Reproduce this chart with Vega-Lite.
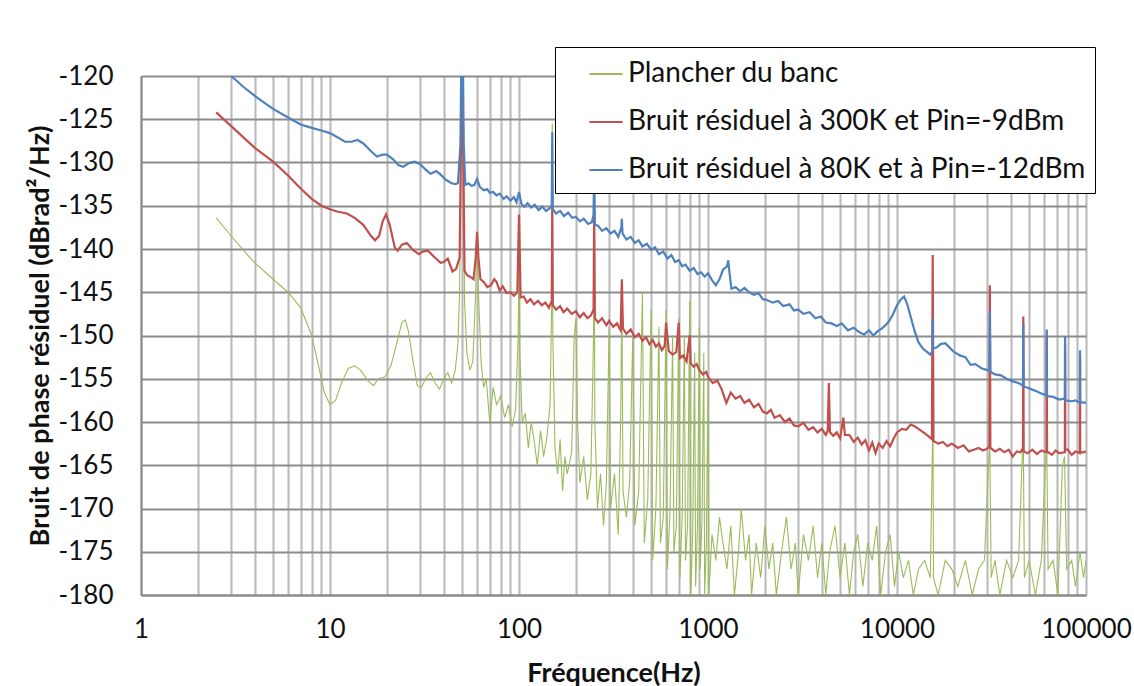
{
  "$schema": "https://vega.github.io/schema/vega-lite/v6.json",
  "width": 945,
  "height": 519,
  "autosize": {"type": "none"},
  "padding": {"left": 141, "top": 76, "right": 48, "bottom": 91},
  "background": "white",
  "config": {
    "font": "Lato",
    "view": {"stroke": "#9a9a9a"},
    "axis": {"labelFont": "Lato", "titleFont": "Lato", "labelColor": "#111", "titleColor": "#111", "ticks": false},
    "legend": {"labelFont": "Lato"}
  },
  "datasets": {
    "green": [
      {"f":2.5,"v":-136.4},{"f":3,"v":-138.5},{"f":3.5,"v":-140.2},{"f":4,"v":-141.6},{"f":5,"v":-143.5},{"f":6,"v":-145},{"f":7,"v":-146.8},{"f":8,"v":-150},{"f":8.7,"v":-153.5},{"f":9.3,"v":-156.5},{"f":10,"v":-158},{"f":10.7,"v":-157.5},{"f":11.5,"v":-155.5},{"f":12.5,"v":-153.8},{"f":13.5,"v":-153.5},{"f":14.5,"v":-154},{"f":16,"v":-155.3},{"f":17,"v":-155.8},{"f":18,"v":-155},{"f":19.5,"v":-154.8},{"f":21,"v":-153.5},{"f":22.5,"v":-151},{"f":24,"v":-148.5},{"f":25,"v":-148.2},{"f":26,"v":-149.5},{"f":27.5,"v":-153},{"f":29,"v":-155.8},{"f":30.5,"v":-156},{"f":32,"v":-155},{"f":34,"v":-154.3},{"f":36,"v":-155.5},{"f":38,"v":-156.2},{"f":40,"v":-155},{"f":42,"v":-154.3},{"f":44,"v":-155.5},{"f":46,"v":-154},{"f":47.5,"v":-151},{"f":48.5,"v":-145},{"f":49.5,"v":-125},{"f":50,"v":-110},{"f":50.5,"v":-125},{"f":51.5,"v":-146},{"f":53,"v":-152},{"f":55,"v":-154},{"f":57,"v":-153},{"f":59,"v":-145},{"f":60,"v":-138.5},{"f":61,"v":-145},{"f":63,"v":-153},{"f":65,"v":-156},{"f":67,"v":-155},{"f":70,"v":-160},{"f":73,"v":-156},{"f":76,"v":-158},{"f":80,"v":-157},{"f":84,"v":-159.5},{"f":88,"v":-158},{"f":92,"v":-160.5},{"f":96,"v":-158.5},{"f":99,"v":-150},{"f":100,"v":-141},{"f":101,"v":-152},{"f":104,"v":-160},{"f":108,"v":-159},{"f":112,"v":-163},{"f":116,"v":-160},{"f":120,"v":-162},{"f":125,"v":-165},{"f":130,"v":-161},{"f":135,"v":-164},{"f":140,"v":-162},{"f":146,"v":-158},{"f":149,"v":-146},{"f":150,"v":-125.5},{"f":151,"v":-150},{"f":155,"v":-163},{"f":160,"v":-166},{"f":165,"v":-162},{"f":170,"v":-168},{"f":175,"v":-164},{"f":180,"v":-166},{"f":190,"v":-163.5},{"f":196,"v":-150},{"f":200,"v":-148},{"f":204,"v":-160},{"f":210,"v":-167},{"f":220,"v":-164},{"f":230,"v":-169},{"f":240,"v":-166},{"f":248,"v":-150},{"f":250,"v":-140},{"f":252,"v":-160},{"f":260,"v":-170},{"f":270,"v":-166},{"f":280,"v":-172},{"f":290,"v":-167},{"f":300,"v":-149},{"f":305,"v":-170},{"f":320,"v":-166},{"f":335,"v":-173},{"f":345,"v":-160},{"f":350,"v":-145},{"f":355,"v":-168},{"f":370,"v":-171},{"f":385,"v":-167},{"f":400,"v":-150},{"f":410,"v":-172},{"f":430,"v":-168},{"f":450,"v":-145},{"f":460,"v":-174},{"f":480,"v":-169},{"f":500,"v":-147},{"f":510,"v":-176},{"f":530,"v":-170},{"f":550,"v":-149},{"f":560,"v":-174},{"f":580,"v":-171},{"f":600,"v":-147},{"f":610,"v":-177},{"f":630,"v":-170},{"f":650,"v":-150},{"f":660,"v":-175},{"f":680,"v":-172},{"f":700,"v":-148},{"f":710,"v":-178},{"f":730,"v":-171},{"f":750,"v":-150},{"f":760,"v":-176},{"f":780,"v":-172},{"f":800,"v":-146},{"f":810,"v":-180},{"f":830,"v":-173},{"f":850,"v":-152},{"f":860,"v":-179},{"f":880,"v":-172},{"f":900,"v":-149},{"f":910,"v":-177},{"f":930,"v":-171},{"f":950,"v":-152},{"f":960,"v":-180},{"f":980,"v":-174},{"f":1000,"v":-155},{"f":1010,"v":-180},{"f":1050,"v":-173},{"f":1100,"v":-176},{"f":1150,"v":-171},{"f":1200,"v":-174},{"f":1260,"v":-177},{"f":1320,"v":-172},{"f":1380,"v":-180},{"f":1450,"v":-175},{"f":1500,"v":-170},{"f":1580,"v":-176},{"f":1650,"v":-173},{"f":1700,"v":-180},{"f":1800,"v":-174},{"f":1900,"v":-178},{"f":2000,"v":-172},{"f":2100,"v":-177},{"f":2200,"v":-174},{"f":2300,"v":-180},{"f":2450,"v":-175},{"f":2600,"v":-171},{"f":2750,"v":-177},{"f":2900,"v":-174},{"f":3000,"v":-180},{"f":3200,"v":-173},{"f":3400,"v":-176},{"f":3600,"v":-172},{"f":3800,"v":-178},{"f":4000,"v":-174},{"f":4200,"v":-180},{"f":4400,"v":-175},{"f":4700,"v":-172},{"f":5000,"v":-178},{"f":5300,"v":-174},{"f":5600,"v":-180},{"f":5900,"v":-175},{"f":6200,"v":-173},{"f":6600,"v":-179},{"f":7000,"v":-174},{"f":7400,"v":-176},{"f":7800,"v":-172},{"f":8200,"v":-180},{"f":8700,"v":-175},{"f":9200,"v":-173},{"f":9700,"v":-179},{"f":10200,"v":-175},{"f":10800,"v":-178},{"f":11500,"v":-176},{"f":12200,"v":-180},{"f":13000,"v":-177},{"f":14000,"v":-176},{"f":15000,"v":-178},{"f":15400,"v":-163},{"f":15500,"v":-160},{"f":15600,"v":-178},{"f":16500,"v":-180},{"f":18000,"v":-176},{"f":19500,"v":-177},{"f":21000,"v":-179},{"f":23000,"v":-176},{"f":25000,"v":-180},{"f":27000,"v":-177},{"f":29000,"v":-176},{"f":30500,"v":-165},{"f":31000,"v":-163},{"f":31500,"v":-178},{"f":33000,"v":-176},{"f":35000,"v":-180},{"f":38000,"v":-176},{"f":41000,"v":-178},{"f":44000,"v":-176},{"f":46000,"v":-164},{"f":46600,"v":-162},{"f":47200,"v":-178},{"f":50000,"v":-176},{"f":54000,"v":-180},{"f":58000,"v":-176},{"f":61000,"v":-165},{"f":62000,"v":-163},{"f":63000,"v":-177},{"f":67000,"v":-176},{"f":71000,"v":-180},{"f":75000,"v":-165},{"f":77000,"v":-164},{"f":79000,"v":-177},{"f":84000,"v":-176},{"f":88000,"v":-179},{"f":93000,"v":-175},{"f":97000,"v":-178},{"f":100000,"v":-176}
    ],
    "red": [
      {"f":2.5,"v":-124.2},{"f":3,"v":-125.8},{"f":4,"v":-128.3},{"f":5,"v":-129.9},{"f":6,"v":-131.5},{"f":7,"v":-133},{"f":8,"v":-134.2},{"f":9,"v":-135},{"f":10,"v":-135.4},{"f":11,"v":-135.7},{"f":12.3,"v":-135.9},{"f":13.5,"v":-136.4},{"f":15,"v":-137.2},{"f":16.5,"v":-138.5},{"f":17.3,"v":-139},{"f":18.2,"v":-138.5},{"f":19,"v":-136.8},{"f":19.8,"v":-136},{"f":20.7,"v":-137.2},{"f":22,"v":-139.8},{"f":22.8,"v":-140.2},{"f":24,"v":-139.5},{"f":25.5,"v":-139.3},{"f":27.5,"v":-140.1},{"f":29.5,"v":-140.6},{"f":31,"v":-140.3},{"f":33,"v":-140.2},{"f":35.5,"v":-140.9},{"f":38.5,"v":-141.6},{"f":40,"v":-141.5},{"f":42,"v":-141.1},{"f":44.5,"v":-142.6},{"f":46.5,"v":-142.3},{"f":48.5,"v":-141},{"f":49.5,"v":-125},{"f":50,"v":-110},{"f":50.5,"v":-125},{"f":51.5,"v":-142.5},{"f":53,"v":-143},{"f":55,"v":-143.2},{"f":57.5,"v":-143.5},{"f":59,"v":-141},{"f":60,"v":-138},{"f":61,"v":-141},{"f":62.5,"v":-143.5},{"f":65,"v":-143.8},{"f":68,"v":-144.4},{"f":71,"v":-144.2},{"f":74,"v":-143.5},{"f":76,"v":-143.8},{"f":79,"v":-144.8},{"f":82,"v":-144.3},{"f":86,"v":-145.1},{"f":90,"v":-145},{"f":94,"v":-145.4},{"f":98,"v":-145},{"f":100,"v":-136},{"f":102,"v":-145.6},{"f":106,"v":-145.5},{"f":110,"v":-146.2},{"f":115,"v":-145.8},{"f":120,"v":-146.4},{"f":126,"v":-146},{"f":132,"v":-146.5},{"f":138,"v":-146.2},{"f":144,"v":-146.8},{"f":149,"v":-146},{"f":150,"v":-135.2},{"f":151,"v":-146.5},{"f":157,"v":-147},{"f":165,"v":-146.6},{"f":172,"v":-147.3},{"f":180,"v":-146.9},{"f":190,"v":-147.5},{"f":200,"v":-147.2},{"f":210,"v":-147.9},{"f":220,"v":-147.4},{"f":230,"v":-148},{"f":240,"v":-147.7},{"f":248,"v":-147},{"f":250,"v":-135.5},{"f":252,"v":-148},{"f":262,"v":-148.5},{"f":275,"v":-148},{"f":290,"v":-148.8},{"f":300,"v":-148.3},{"f":315,"v":-149},{"f":330,"v":-148.6},{"f":345,"v":-149.4},{"f":350,"v":-143.5},{"f":355,"v":-149.2},{"f":370,"v":-149.8},{"f":390,"v":-149.3},{"f":410,"v":-150.2},{"f":430,"v":-149.8},{"f":450,"v":-150.6},{"f":470,"v":-150.2},{"f":490,"v":-151},{"f":510,"v":-150.5},{"f":530,"v":-151.3},{"f":550,"v":-150.9},{"f":570,"v":-151.7},{"f":590,"v":-151.2},{"f":600,"v":-148.5},{"f":620,"v":-151.8},{"f":650,"v":-152.2},{"f":680,"v":-151.9},{"f":700,"v":-148.5},{"f":710,"v":-152.6},{"f":740,"v":-152.3},{"f":770,"v":-153},{"f":800,"v":-150},{"f":810,"v":-153.2},{"f":840,"v":-153.6},{"f":870,"v":-153.3},{"f":900,"v":-154},{"f":940,"v":-154.5},{"f":980,"v":-154.2},{"f":1000,"v":-154.8},{"f":1060,"v":-155.5},{"f":1120,"v":-155.2},{"f":1180,"v":-156.2},{"f":1250,"v":-157.8},{"f":1320,"v":-156.6},{"f":1400,"v":-157.3},{"f":1480,"v":-157},{"f":1560,"v":-157.8},{"f":1650,"v":-157.4},{"f":1750,"v":-158.3},{"f":1850,"v":-157.9},{"f":1950,"v":-158.8},{"f":2050,"v":-159},{"f":2150,"v":-158.6},{"f":2250,"v":-159.5},{"f":2400,"v":-159.2},{"f":2550,"v":-160},{"f":2700,"v":-159.6},{"f":2850,"v":-160.4},{"f":3000,"v":-160.5},{"f":3200,"v":-160.1},{"f":3400,"v":-160.9},{"f":3600,"v":-160.6},{"f":3800,"v":-161.2},{"f":4000,"v":-160.8},{"f":4200,"v":-161.5},{"f":4300,"v":-161},{"f":4360,"v":-155.5},{"f":4420,"v":-161.2},{"f":4600,"v":-161.6},{"f":4800,"v":-161.2},{"f":5000,"v":-161.9},{"f":5200,"v":-159.5},{"f":5300,"v":-161.5},{"f":5600,"v":-161.5},{"f":5900,"v":-162.3},{"f":6200,"v":-161.8},{"f":6500,"v":-162.6},{"f":6800,"v":-162.1},{"f":7100,"v":-163.3},{"f":7400,"v":-162.4},{"f":7700,"v":-163.6},{"f":8000,"v":-162.5},{"f":8400,"v":-163},{"f":8800,"v":-162.2},{"f":9200,"v":-162.8},{"f":9600,"v":-161.9},{"f":10000,"v":-161.2},{"f":10600,"v":-160.8},{"f":11200,"v":-160.9},{"f":11800,"v":-160.3},{"f":12400,"v":-160.5},{"f":13000,"v":-160.8},{"f":13800,"v":-161.2},{"f":14600,"v":-161.6},{"f":15300,"v":-162},{"f":15450,"v":-140.7},{"f":15600,"v":-162.2},{"f":16500,"v":-162.5},{"f":17500,"v":-162.3},{"f":18500,"v":-162.8},{"f":19500,"v":-162.5},{"f":21000,"v":-163},{"f":22500,"v":-162.7},{"f":24000,"v":-163.4},{"f":25500,"v":-163.2},{"f":27000,"v":-163},{"f":28500,"v":-163.3},{"f":30000,"v":-163.1},{"f":30800,"v":-162.8},{"f":31000,"v":-144.2},{"f":31200,"v":-163},{"f":33000,"v":-163.4},{"f":35000,"v":-163.1},{"f":37000,"v":-163.5},{"f":39000,"v":-163.2},{"f":41000,"v":-164},{"f":43000,"v":-163.4},{"f":45000,"v":-163.5},{"f":46400,"v":-163},{"f":46600,"v":-147.8},{"f":46800,"v":-163.4},{"f":49000,"v":-163.6},{"f":52000,"v":-163.2},{"f":55000,"v":-163.7},{"f":58000,"v":-163.3},{"f":61800,"v":-163.5},{"f":62000,"v":-150},{"f":62200,"v":-163.4},{"f":66000,"v":-163.8},{"f":69000,"v":-163.3},{"f":72000,"v":-163.6},{"f":77300,"v":-163.5},{"f":77500,"v":-151},{"f":77700,"v":-163.2},{"f":80000,"v":-163.2},{"f":84000,"v":-163.8},{"f":88000,"v":-163.4},{"f":92800,"v":-163.6},{"f":93000,"v":-152.5},{"f":93200,"v":-163.5},{"f":97000,"v":-163.5},{"f":100000,"v":-163.4}
    ],
    "blue": [
      {"f":3,"v":-120},{"f":3.5,"v":-121.3},{"f":4,"v":-122.3},{"f":4.5,"v":-123.1},{"f":5,"v":-123.8},{"f":6,"v":-124.8},{"f":7,"v":-125.6},{"f":8,"v":-126},{"f":9,"v":-126.3},{"f":10,"v":-126.6},{"f":11,"v":-127.1},{"f":12,"v":-127.6},{"f":13,"v":-127.6},{"f":14,"v":-127.4},{"f":15,"v":-127.8},{"f":16.5,"v":-128.7},{"f":17.7,"v":-129.3},{"f":19,"v":-129.1},{"f":20,"v":-129.1},{"f":21.5,"v":-129.6},{"f":23,"v":-130.3},{"f":24.4,"v":-130.5},{"f":26,"v":-130.1},{"f":28,"v":-129.9},{"f":30,"v":-130.2},{"f":32,"v":-130.8},{"f":34,"v":-131.3},{"f":36.5,"v":-131},{"f":38.5,"v":-131.4},{"f":41,"v":-132},{"f":44,"v":-132.4},{"f":46,"v":-132.5},{"f":47.5,"v":-132.4},{"f":49,"v":-128},{"f":49.5,"v":-118},{"f":50,"v":-110},{"f":50.5,"v":-118},{"f":51,"v":-128},{"f":52,"v":-132.6},{"f":54,"v":-132.4},{"f":56,"v":-132.7},{"f":58,"v":-132.6},{"f":60,"v":-131.9},{"f":62,"v":-132.8},{"f":65,"v":-133.2},{"f":68,"v":-133.1},{"f":70,"v":-133.5},{"f":73,"v":-133.4},{"f":76,"v":-133.8},{"f":79,"v":-133.6},{"f":83,"v":-134.2},{"f":86,"v":-133.9},{"f":90,"v":-134.4},{"f":94,"v":-134},{"f":97,"v":-134.6},{"f":100,"v":-133.4},{"f":103,"v":-134.8},{"f":107,"v":-135.1},{"f":111,"v":-134.7},{"f":116,"v":-135.2},{"f":121,"v":-134.9},{"f":127,"v":-135.5},{"f":133,"v":-135.1},{"f":139,"v":-135.6},{"f":145,"v":-135.3},{"f":149,"v":-135},{"f":150,"v":-126.5},{"f":151,"v":-135.4},{"f":157,"v":-135.9},{"f":165,"v":-135.6},{"f":173,"v":-136.2},{"f":182,"v":-135.8},{"f":191,"v":-136.4},{"f":200,"v":-136.3},{"f":210,"v":-136.8},{"f":220,"v":-136.5},{"f":232,"v":-137.1},{"f":243,"v":-136.9},{"f":248,"v":-136},{"f":250,"v":-130},{"f":252,"v":-137.2},{"f":262,"v":-137.3},{"f":275,"v":-137.9},{"f":290,"v":-137.6},{"f":305,"v":-138.2},{"f":320,"v":-137.9},{"f":335,"v":-138.6},{"f":348,"v":-137.5},{"f":350,"v":-136.5},{"f":353,"v":-138.2},{"f":370,"v":-138.9},{"f":390,"v":-138.6},{"f":410,"v":-139.3},{"f":430,"v":-139},{"f":450,"v":-139.7},{"f":475,"v":-139.4},{"f":500,"v":-140.1},{"f":525,"v":-139.8},{"f":550,"v":-140.6},{"f":580,"v":-140.3},{"f":610,"v":-141.1},{"f":640,"v":-140.7},{"f":670,"v":-141.5},{"f":700,"v":-141.3},{"f":730,"v":-142},{"f":760,"v":-141.8},{"f":800,"v":-142.5},{"f":840,"v":-142.2},{"f":880,"v":-142.9},{"f":920,"v":-142.7},{"f":960,"v":-143.2},{"f":1000,"v":-142.8},{"f":1050,"v":-143.6},{"f":1100,"v":-144.2},{"f":1150,"v":-143.5},{"f":1200,"v":-142.4},{"f":1260,"v":-142},{"f":1280,"v":-141.3},{"f":1300,"v":-142.8},{"f":1330,"v":-144.6},{"f":1400,"v":-144.4},{"f":1480,"v":-144.9},{"f":1560,"v":-144.5},{"f":1650,"v":-145},{"f":1750,"v":-145.3},{"f":1850,"v":-145.1},{"f":1950,"v":-145.8},{"f":2050,"v":-145.9},{"f":2200,"v":-146.2},{"f":2350,"v":-146},{"f":2500,"v":-146.6},{"f":2700,"v":-146.4},{"f":2850,"v":-147.1},{"f":3000,"v":-147},{"f":3200,"v":-147.5},{"f":3450,"v":-147.3},{"f":3700,"v":-148},{"f":3950,"v":-147.8},{"f":4200,"v":-148.5},{"f":4500,"v":-148.6},{"f":4800,"v":-148.9},{"f":5100,"v":-148.6},{"f":5500,"v":-149.4},{"f":5900,"v":-149.1},{"f":6300,"v":-149.6},{"f":6700,"v":-149.9},{"f":7100,"v":-149.4},{"f":7500,"v":-150},{"f":7900,"v":-149.5},{"f":8300,"v":-149.2},{"f":8700,"v":-148.8},{"f":9100,"v":-148.3},{"f":9500,"v":-147.6},{"f":10000,"v":-146.5},{"f":10500,"v":-145.8},{"f":10900,"v":-145.5},{"f":11300,"v":-146.3},{"f":11800,"v":-147.8},{"f":12400,"v":-149.5},{"f":13000,"v":-150.8},{"f":13700,"v":-151.5},{"f":14400,"v":-151.9},{"f":15000,"v":-152.2},{"f":15400,"v":-151.8},{"f":15450,"v":-148},{"f":15500,"v":-151.5},{"f":16200,"v":-151.4},{"f":17000,"v":-151},{"f":18000,"v":-150.9},{"f":19000,"v":-151.4},{"f":20000,"v":-151.9},{"f":21500,"v":-152.3},{"f":23000,"v":-152.5},{"f":24500,"v":-153.4},{"f":26000,"v":-153.3},{"f":28000,"v":-153.8},{"f":30000,"v":-154},{"f":30800,"v":-154.1},{"f":31000,"v":-147.2},{"f":31200,"v":-154.2},{"f":33000,"v":-154.5},{"f":35500,"v":-154.6},{"f":38000,"v":-155},{"f":41000,"v":-155.3},{"f":44000,"v":-155.5},{"f":46400,"v":-155.8},{"f":46600,"v":-148.6},{"f":46800,"v":-155.9},{"f":50000,"v":-156.1},{"f":54000,"v":-156.4},{"f":58000,"v":-156.7},{"f":61800,"v":-156.9},{"f":62000,"v":-149.3},{"f":62200,"v":-157},{"f":67000,"v":-157.1},{"f":72000,"v":-157.4},{"f":77300,"v":-157.3},{"f":77500,"v":-150.1},{"f":77700,"v":-157.5},{"f":84000,"v":-157.6},{"f":88000,"v":-157.5},{"f":92800,"v":-157.8},{"f":93000,"v":-151.7},{"f":93200,"v":-157.7},{"f":100000,"v":-157.8}
    ]
  },
  "encoding": {
    "x": {
      "field": "f", "type": "quantitative",
      "scale": {"type": "log", "domain": [1, 100000], "nice": false},
      "axis": {
        "title": "Fréquence(Hz)", "titleFontSize": 27, "titleFontWeight": "bold", "titlePadding": 18,
        "values": [1,2,3,4,5,6,7,8,9,10,20,30,40,50,60,70,80,90,100,200,300,400,500,600,700,800,900,1000,2000,3000,4000,5000,6000,7000,8000,9000,10000,20000,30000,40000,50000,60000,70000,80000,90000,100000],
        "labelExpr": "indexof([1,10,100,1000,10000,100000], datum.value) >= 0 ? toString(datum.value) : ''",
        "labelOverlap": false, "labelFlush": false, "labelFontSize": 26, "labelPadding": 21,
        "grid": true, "gridColor": "#b8b8b8", "gridWidth": 2,
        "domainColor": "#8a8a8a", "domainWidth": 2
      }
    },
    "y": {
      "field": "v", "type": "quantitative",
      "scale": {"domain": [-180, -120], "nice": false, "zero": false},
      "axis": {
        "title": "Bruit de phase résiduel (dBrad²/Hz)", "titleFontSize": 27, "titleFontWeight": "bold", "titlePadding": 4,
        "values": [-180,-175,-170,-165,-160,-155,-150,-145,-140,-135,-130,-125,-120],
        "labelExpr": "toString(datum.value)", "labelFontSize": 26, "labelPadding": 28,
        "grid": true, "gridColor": "#8c8c8c", "gridWidth": 2,
        "domainColor": "#8a8a8a", "domainWidth": 2
      }
    }
  },
  "layer": [
    {
      "data": {"name": "green"},
      "mark": {"type": "line", "clip": true, "strokeWidth": 1.1},
      "encoding": {
        "color": {
          "datum": "Plancher du banc", "type": "nominal",
          "scale": {"domain": ["Plancher du banc", "Bruit résiduel à 300K et Pin=-9dBm", "Bruit résiduel à 80K et à Pin=-12dBm"], "range": ["#9BBB59", "#C0504D", "#4F81BD"]},
          "legend": {
            "title": null, "orient": "none", "legendX": 414, "legendY": -29,
            "fillColor": "white", "strokeColor": "#000", "padding": 9,
            "symbolType": "stroke", "symbolSize": 1100, "symbolStrokeWidth": 2, "symbolOffset": 24,
            "labelFontSize": 28, "labelColor": "#111", "labelOffset": 4, "labelLimit": 700, "rowPadding": 16
          }
        }
      }
    },
    {
      "data": {"name": "red"},
      "mark": {"type": "line", "clip": true, "strokeWidth": 2.2},
      "encoding": {"color": {"datum": "Bruit résiduel à 300K et Pin=-9dBm", "type": "nominal"}}
    },
    {
      "data": {"name": "blue"},
      "mark": {"type": "line", "clip": true, "strokeWidth": 2.2},
      "encoding": {"color": {"datum": "Bruit résiduel à 80K et à Pin=-12dBm", "type": "nominal"}}
    }
  ]
}
